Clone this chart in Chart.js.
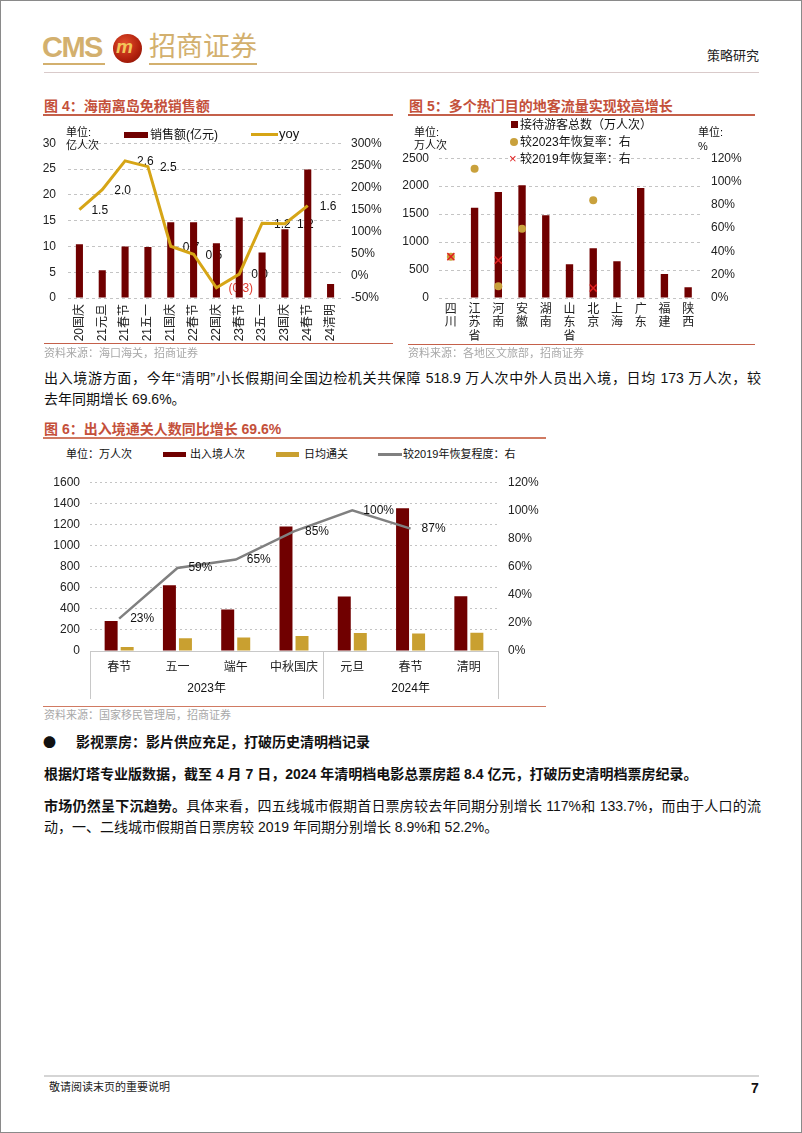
<!DOCTYPE html>
<html><head><meta charset="utf-8">
<script src="https://cdn.jsdelivr.net/npm/chart.js@4.4.1/dist/chart.umd.min.js"></script>
<style>
html,body{margin:0;padding:0;background:#fff;}
#page{position:relative;width:802px;height:1133px;box-sizing:border-box;border:1px solid #8a8a8a;overflow:hidden;font-family:"Liberation Sans","Noto Sans CJK SC",sans-serif;color:#111;background:#fff;}
.t{position:absolute;white-space:nowrap;line-height:1;}
.r{position:absolute;}
canvas{position:absolute;}
.title{font-size:14px;font-weight:bold;color:#C4503A;}
.src{font-size:11px;color:#A8A8A8;}
.p{font-size:14px;color:#111;}
.leg{z-index:2;}
</style></head>
<body><div id="page">
<!-- header -->
<div class="t" style="left:41px;top:32px;font-size:29px;font-weight:bold;color:#D3B06E;letter-spacing:-1.5px;">CMS</div>
<div class="r" style="left:42px;top:62px;width:62px;height:2px;background:#D3B06E;"></div>
<div class="r" style="left:112px;top:33px;width:29px;height:29px;border-radius:50%;background:radial-gradient(circle at 40% 35%,#E4502E,#B0200C 60%,#7A1005);"></div>
<div class="t" style="left:115px;top:36px;font-size:19px;font-weight:bold;font-style:italic;color:#F2C75A;">m</div>
<div class="t" style="left:148px;top:33px;font-size:27px;color:#D3B06E;">招商证券</div>
<div class="r" style="left:148px;top:62px;width:108px;height:2px;background:#D3B06E;"></div>
<div class="t" style="left:706px;top:48px;font-size:13px;color:#222;">策略研究</div>
<div class="r" style="left:43px;top:71px;width:715px;height:1px;background:#D9CACA;"></div>

<!-- figure 4 -->
<div class="t title" style="left:43px;top:98px;">图 4：海南离岛免税销售额</div>
<div class="r" style="left:42px;top:113px;width:350px;height:2px;background:#C4604A;"></div>
<canvas id="c4" width="355" height="222" style="left:40px;top:123px;"></canvas>
<div class="t leg" style="left:65px;top:126px;font-size:11px;">单位:</div>
<div class="t leg" style="left:65px;top:139px;font-size:11px;">亿人次</div>
<div class="r leg" style="left:123px;top:131px;width:24px;height:6px;background:#700000;"></div>
<div class="t leg" style="left:149px;top:128px;font-size:12px;">销售额(亿元)</div>
<div class="r leg" style="left:250px;top:132px;width:27px;height:3px;background:#D6A516;"></div>
<div class="t leg" style="left:278px;top:126px;font-size:13px;">yoy</div>
<div class="r" style="left:43px;top:342px;width:349px;height:1px;background:#C4604A;"></div>
<div class="t src" style="left:43px;top:347px;">资料来源：海口海关，招商证券</div>

<!-- figure 5 -->
<div class="t title" style="left:408px;top:98px;">图 5：多个热门目的地客流量实现较高增长</div>
<div class="r" style="left:407px;top:113px;width:347px;height:2px;background:#C4604A;"></div>
<canvas id="c5" width="360" height="206" style="left:398px;top:139px;"></canvas>
<div class="t leg" style="left:413px;top:126px;font-size:11px;">单位:</div>
<div class="t leg" style="left:413px;top:139px;font-size:11px;">万人次</div>
<div class="t leg" style="left:697px;top:126px;font-size:11px;">单位:</div>
<div class="t leg" style="left:697px;top:140px;font-size:11px;">%</div>
<div class="r leg" style="left:510px;top:120px;width:7px;height:7px;background:#700000;"></div>
<div class="t leg" style="left:519px;top:118px;font-size:12px;">接待游客总数（万人次）</div>
<div class="r leg" style="left:509px;top:137px;width:8px;height:8px;border-radius:50%;background:#C9A13C;"></div>
<div class="t leg" style="left:519px;top:135px;font-size:12px;">较2023年恢复率：右</div>
<div class="t leg" style="left:508px;top:151px;font-size:13px;color:#E02020;">×</div>
<div class="t leg" style="left:519px;top:152px;font-size:12px;">较2019年恢复率：右</div>
<div class="r" style="left:407px;top:343px;width:347px;height:1px;background:#C4604A;"></div>
<div class="t src" style="left:407px;top:347px;">资料来源：各地区文旅部，招商证券</div>

<!-- paragraph -->
<div class="r p" style="left:43px;top:369px;width:717px;line-height:16px;text-align:justify;text-align-last:justify;white-space:nowrap;">出入境游方面，今年“清明”小长假期间全国边检机关共保障 518.9 万人次中外人员出入境，日均 173 万人次，较</div>
<div class="t p" style="left:43px;top:391px;">去年同期增长 69.6%。</div>

<!-- figure 6 -->
<div class="t title" style="left:43px;top:421px;">图 6：出入境通关人数同比增长 69.6%</div>
<div class="r" style="left:42px;top:436px;width:503px;height:2px;background:#D07A62;"></div>
<canvas id="c6" width="500" height="236" style="left:45px;top:464px;"></canvas>
<div class="t leg" style="left:65px;top:448px;font-size:11px;">单位：万人次</div>
<div class="r leg" style="left:162px;top:451px;width:23px;height:5px;background:#700000;"></div>
<div class="t leg" style="left:189px;top:448px;font-size:11px;">出入境人次</div>
<div class="r leg" style="left:275px;top:451px;width:23px;height:5px;background:#C9A030;"></div>
<div class="t leg" style="left:303px;top:448px;font-size:11px;">日均通关</div>
<div class="r leg" style="left:377px;top:452px;width:24px;height:3px;background:#808080;"></div>
<div class="t leg" style="left:402px;top:448px;font-size:11px;">较2019年恢复程度：右</div>
<div class="r" style="left:42px;top:705px;width:503px;height:1px;background:#D07A62;"></div>
<div class="t src" style="left:43px;top:709px;">资料来源：国家移民管理局，招商证券</div>

<!-- text below -->
<div class="t" style="left:42px;top:734px;font-size:13px;font-family:'Noto Sans CJK SC',sans-serif;">●</div>
<div class="t p" style="left:75px;top:734px;font-weight:bold;">影视票房：影片供应充足，打破历史清明档记录</div>
<div class="t p" style="left:43px;top:766px;font-weight:bold;">根据灯塔专业版数据，截至 4 月 7 日，2024 年清明档电影总票房超 8.4 亿元，打破历史清明档票房纪录。</div>
<div class="r p" style="left:43px;top:797px;width:717px;line-height:16px;text-align:justify;text-align-last:justify;white-space:nowrap;"><b>市场仍然呈下沉趋势。</b>具体来看，四五线城市假期首日票房较去年同期分别增长 117%和 133.7%，而由于人口的流</div>
<div class="t p" style="left:43px;top:819px;">动，一、二线城市假期首日票房较 2019 年同期分别增长 8.9%和 52.2%。</div>

<!-- footer -->
<div class="r" style="left:43px;top:1074px;width:715px;height:2px;background:#D5D5D5;"></div>
<div class="t" style="left:48px;top:1081px;font-size:11px;color:#222;">敬请阅读末页的重要说明</div>
<div class="t" style="left:750px;top:1080px;font-size:14px;font-weight:bold;">7</div>
</div>

<script>
// ---------- data ----------
const c4Labels = ['20国庆','21元旦','21春节','21五一','21国庆','22春节','22国庆','23春节','23五一','23国庆','24春节','24清明'];
const c4Sales = [10.4,5.4,10.0,9.9,14.7,14.7,10.6,15.6,8.8,13.3,24.9,2.7];
const c4Yoy = [150,195,260,247,67,49,-27,4,119,118,159,null];
const c4YoyText = ['1.5','2.0','2.6','2.5','0.7','0.5','(0.3)','0.0','1.2','1.2','1.6',null];

const c5Labels = ['四川','江苏省','河南','安徽','湖南','山东省','北京','上海','广东','福建','陕西'];
const c5Visitors = [null,1615,1897,2015,1482,605,890,655,1968,430,192];
const c5Rec2023 = [35.5,111,10,59.5,null,null,84,null,null,null,null];
const c5Rec2019 = [35.5,null,32.5,null,null,null,8.5,null,null,null,null];

const c6Labels = ['春节','五一','端午','中秋国庆','元旦','春节','清明'];
const c6Years = ['2023年','2024年'];
const c6YearSpans = [4,3];
const c6Crossings = [285,624,393,1179,517,1353,519];
const c6Daily = [38,120,127,143,171,165,173];
const c6Recovery = [23,59,65,85,100,87,null];

// ---------- common ----------
const FONT = '"Liberation Sans","Noto Sans CJK SC",sans-serif';
Chart.defaults.font.family = FONT;
Chart.defaults.font.size = 12;
Chart.defaults.color = '#222';
const MAROON = '#700000';
const GRID = '#C4C4C4';
function fixW(w){ return s => { s.width = w; }; }
function fixH(h){ return s => { s.height = h; }; }
const plain = v => String(v);
const pct = v => v + '%';
const noPlug = { legend:{display:false}, tooltip:{enabled:false} };

// ---------- figure 4 ----------
const c4LabelPlugin = {
  id:'c4lbl',
  beforeDatasetsDraw(chart){
    const meta = chart.getDatasetMeta(1);
    const ctx = chart.ctx;
    ctx.save();
    ctx.font = '12px ' + FONT;
    ctx.textAlign = 'left'; ctx.textBaseline = 'middle';
    meta.data.forEach((pt,i)=>{
      const s = c4YoyText[i];
      if(!s || c4Yoy[i]===null) return;
      ctx.fillStyle = c4Yoy[i] < 0 ? '#E03C31' : '#111';
      ctx.fillText(s, pt.x + 12, pt.y + 1);
    });
    ctx.restore();
  }
};
new Chart(document.getElementById('c4'), {
  type:'bar',
  data:{ labels:c4Labels, datasets:[
    { type:'bar', data:c4Sales, backgroundColor:MAROON, yAxisID:'y', order:2, categoryPercentage:1, barPercentage:0.31 },
    { type:'line', data:c4Yoy, borderColor:'#D6A516', borderWidth:3, pointRadius:0, yAxisID:'y1', order:1, tension:0 }
  ]},
  options:{
    responsive:false, animation:false, devicePixelRatio:1,
    layout:{ padding:{ top:14, left:0, right:0, bottom:0 } },
    plugins:noPlug,
    scales:{
      x:{ grid:{display:false, drawTicks:false}, border:{display:false},
          ticks:{ minRotation:90, maxRotation:90, padding:6, autoSkip:false, font:{size:12} }, afterFit:fixH(48) },
      y:{ position:'left', min:0, max:30, ticks:{ stepSize:5, padding:12, callback:plain },
          grid:{ color:GRID, drawTicks:false }, border:{ display:false, dash:[3,3] }, afterFit:fixW(27) },
      y1:{ position:'right', min:-50, max:300, ticks:{ stepSize:50, padding:9, callback:pct },
          grid:{ drawOnChartArea:false, drawTicks:false }, border:{display:false}, afterFit:fixW(54) }
    }
  },
  plugins:[c4LabelPlugin]
});

// ---------- figure 5 ----------
new Chart(document.getElementById('c5'), {
  type:'bar',
  data:{ labels:c5Labels.map(s=>s.split('')), datasets:[
    { type:'bar', data:c5Visitors, backgroundColor:MAROON, yAxisID:'y', order:3, categoryPercentage:1, barPercentage:0.31 },
    { type:'line', data:c5Rec2023, showLine:false, yAxisID:'y1', order:2, pointStyle:'circle', pointRadius:4, pointBackgroundColor:'#C9A13C', pointBorderColor:'#C9A13C', pointBorderWidth:0 },
    { type:'line', data:c5Rec2019, showLine:false, yAxisID:'y1', order:1, pointStyle:'crossRot', pointRadius:5, pointBorderColor:'#E02020', pointBorderWidth:1.5 }
  ]},
  options:{
    responsive:false, animation:false, devicePixelRatio:1,
    layout:{ padding:{ top:11, left:0, right:0, bottom:0 } },
    plugins:noPlug,
    scales:{
      x:{ grid:{display:false, drawTicks:false}, border:{display:false},
          ticks:{ maxRotation:0, minRotation:0, padding:5, autoSkip:false, font:{size:12, lineHeight:1.12} }, afterFit:fixH(48) },
      y:{ position:'left', min:0, max:2500, ticks:{ stepSize:500, padding:10, callback:plain },
          grid:{ color:GRID, drawTicks:false }, border:{ display:false, dash:[3,3] }, afterFit:fixW(40) },
      y1:{ position:'right', min:0, max:120, ticks:{ stepSize:20, padding:11, callback:pct },
          grid:{ drawOnChartArea:false, drawTicks:false }, border:{display:false}, afterFit:fixW(59) }
    }
  }
});

// ---------- figure 6 ----------
const c6Plugin = {
  id:'c6extra',
  afterDatasetsDraw(chart){
    const ctx = chart.ctx;
    const meta = chart.getDatasetMeta(2);
    ctx.save();
    ctx.font = '12px ' + FONT; ctx.fillStyle = '#111';
    ctx.textAlign = 'left'; ctx.textBaseline = 'middle';
    meta.data.forEach((pt,i)=>{
      if(c6Recovery[i]===null) return;
      ctx.fillText(c6Recovery[i] + '%', pt.x + 11, pt.y);
    });
    ctx.restore();
  },
  afterDraw(chart){
    const { ctx, chartArea, scales:{x} } = chart;
    const b = chartArea.bottom;
    const bounds = [chartArea.left];
    let idx = 0;
    c6YearSpans.forEach(n=>{
      idx += n;
      bounds.push(idx < c6Labels.length ? (x.getPixelForValue(idx-1) + x.getPixelForValue(idx))/2 : chartArea.right);
    });
    ctx.save();
    ctx.strokeStyle = '#C8C8C8'; ctx.lineWidth = 1;
    bounds.forEach(px=>{
      const xx = Math.round(px) + 0.5;
      ctx.beginPath(); ctx.moveTo(xx, b); ctx.lineTo(xx, b + 48); ctx.stroke();
    });
    ctx.font = '12px ' + FONT; ctx.fillStyle = '#111';
    ctx.textAlign = 'center'; ctx.textBaseline = 'middle';
    c6Years.forEach((y,i)=> ctx.fillText(y, (bounds[i] + bounds[i+1]) / 2, b + 38));
    ctx.restore();
  }
};
new Chart(document.getElementById('c6'), {
  type:'bar',
  data:{ labels:c6Labels, datasets:[
    { type:'bar', data:c6Crossings, backgroundColor:MAROON, yAxisID:'y', order:2, categoryPercentage:0.55, barPercentage:0.81 },
    { type:'bar', data:c6Daily, backgroundColor:'#C9A030', yAxisID:'y', order:3, categoryPercentage:0.55, barPercentage:0.81 },
    { type:'line', data:c6Recovery, borderColor:'#808080', borderWidth:2.5, pointRadius:0, yAxisID:'y1', order:1, tension:0 }
  ]},
  options:{
    responsive:false, animation:false, devicePixelRatio:1,
    layout:{ padding:{ top:14, left:0, right:0, bottom:0 } },
    plugins:noPlug,
    scales:{
      x:{ grid:{display:false, drawTicks:false}, border:{display:true, color:'#C8C8C8', width:1},
          ticks:{ maxRotation:0, minRotation:0, padding:9, autoSkip:false, font:{size:12} }, afterFit:fixH(50) },
      y:{ position:'left', min:0, max:1600, ticks:{ stepSize:200, padding:10, callback:plain },
          grid:{ color:GRID, drawTicks:false }, border:{ display:false, dash:[2,3] }, afterFit:fixW(44) },
      y1:{ position:'right', min:0, max:120, ticks:{ stepSize:20, padding:10, callback:pct },
          grid:{ drawOnChartArea:false, drawTicks:false }, border:{display:false}, afterFit:fixW(48) }
    }
  },
  plugins:[c6Plugin]
});
</script>
</body></html>
